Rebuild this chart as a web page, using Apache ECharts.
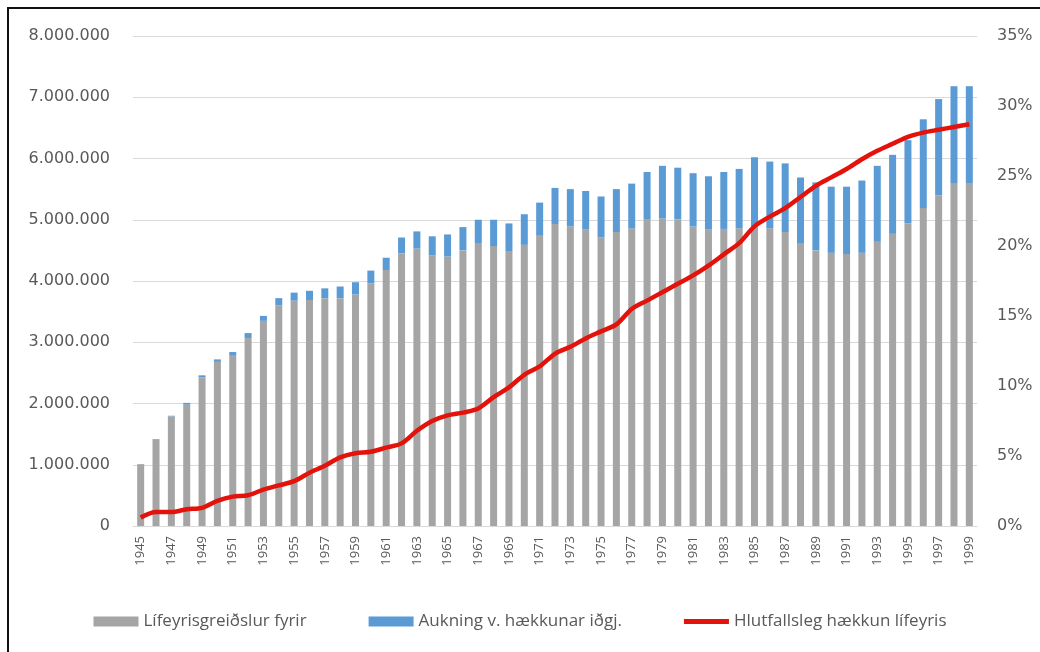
<!DOCTYPE html>
<html>
<head>
<meta charset="utf-8">
<title>Lífeyrisgreiðslur</title>
<script src="https://cdn.jsdelivr.net/npm/echarts@6/dist/echarts.min.js"></script>
<style>
  html, body { margin: 0; padding: 0; background: #fff; }
  #chart { width: 1040px; height: 652px; }
</style>
</head>
<body>
<div id="chart"></div>
<script>
  // ár
  const years = []
  for (let y = 1945; y <= 1999; y++) years.push(String(y))

  // Lífeyrisgreiðslur fyrir (milljónir)
  const baseValues = [
    1.01, 1.41, 1.79, 1.98, 2.43, 2.68, 2.79, 3.07, 3.35, 3.60,
    3.68, 3.69, 3.72, 3.72, 3.78, 3.96, 4.18, 4.45, 4.53, 4.42,
    4.40, 4.50, 4.62, 4.57, 4.49, 4.59, 4.75, 4.93, 4.89, 4.84,
    4.71, 4.80, 4.86, 5.00, 5.02, 5.01, 4.89, 4.84, 4.85, 4.86,
    4.89, 4.86, 4.80, 4.62, 4.50, 4.46, 4.44, 4.46, 4.64, 4.77,
    4.94, 5.19, 5.40, 5.60, 5.60
  ]

  // Aukning v. hækkunar iðgj. (milljónir)
  const increaseValues = [
    0.00, 0.01, 0.01, 0.03, 0.03, 0.04, 0.05, 0.08, 0.08, 0.12,
    0.13, 0.15, 0.16, 0.19, 0.20, 0.21, 0.20, 0.26, 0.28, 0.31,
    0.36, 0.38, 0.38, 0.43, 0.45, 0.50, 0.53, 0.59, 0.61, 0.63,
    0.67, 0.70, 0.73, 0.78, 0.86, 0.84, 0.87, 0.87, 0.93, 0.97,
    1.13, 1.09, 1.12, 1.07, 1.11, 1.08, 1.10, 1.18, 1.24, 1.29,
    1.36, 1.45, 1.57, 1.58, 1.58
  ]

  // Hlutfallsleg hækkun lífeyris (%)
  const pctValues = [
    0.6, 1.0, 1.0, 1.2, 1.3, 1.8, 2.1, 2.2, 2.6, 2.9,
    3.2, 3.8, 4.3, 4.9, 5.2, 5.3, 5.6, 5.9, 6.8, 7.5,
    7.9, 8.1, 8.4, 9.2, 9.9, 10.8, 11.4, 12.3, 12.8, 13.4,
    13.9, 14.4, 15.5, 16.1, 16.7, 17.3, 17.9, 18.6, 19.4, 20.2,
    21.4, 22.1, 22.7, 23.5, 24.3, 24.9, 25.5, 26.2, 26.8, 27.3,
    27.8, 28.1, 28.3, 28.5, 28.7
  ]

  const seriesNames = ['Lífeyrisgreiðslur fyrir', 'Aukning v. hækkunar iðgj.', 'Hlutfallsleg hækkun lífeyris']

  const toKr = (arr) => arr.map(v => Math.round(v * 1000000))
  const fmtThousands = (v) => String(v).replace(/\B(?=(\d{3})+(?!\d))/g, '.')

  let myChart = echarts.init(document.getElementById('chart'), null, { renderer: 'canvas' })
  myChart.setOption({
    animation: false,
    textStyle: { fontFamily: 'Open Sans' },
    grid: {
      left: 133,
      right: 63,
      top: 36,
      bottom: 126
    },
    legend: {
      top: 608,
      left: 'center',
      itemGap: 62,
      itemWidth: 45,
      itemHeight: 10,
      textStyle: { fontFamily: 'Open Sans', fontSize: 17, color: '#595959' },
      data: [
        { name: seriesNames[0], icon: 'rect' },
        { name: seriesNames[1], icon: 'rect' },
        { name: seriesNames[2], icon: 'path://M0,0 L45,0 L45,5 L0,5 Z' }
      ]
    },
    xAxis: {
      type: 'category',
      data: years,
      axisTick: { show: false },
      axisLine: { lineStyle: { color: '#D9D9D9' } },
      axisLabel: {
        rotate: 90,
        interval: 1,
        margin: 10,
        fontFamily: 'Open Sans',
        fontSize: 13,
        color: '#595959'
      }
    },
    yAxis: [
      {
        type: 'value',
        min: 0,
        max: 8000000,
        interval: 1000000,
        axisLine: { show: false },
        axisTick: { show: false },
        splitLine: { lineStyle: { color: '#D9D9D9' } },
        axisLabel: {
          margin: 23,
          fontFamily: 'DejaVu Sans',
          fontSize: 16,
          color: '#595959',
          formatter: fmtThousands
        }
      },
      {
        type: 'value',
        min: 0,
        max: 35,
        interval: 5,
        axisLine: { show: false },
        axisTick: { show: false },
        splitLine: { show: false },
        axisLabel: {
          margin: 20,
          fontFamily: 'DejaVu Sans',
          fontSize: 16,
          color: '#595959',
          formatter: '{value}%'
        }
      }
    ],
    series: [
      {
        name: seriesNames[0],
        type: 'bar',
        stack: 'total',
        barWidth: 7,
        itemStyle: { color: '#A5A5A5' },
        data: toKr(baseValues)
      },
      {
        name: seriesNames[1],
        type: 'bar',
        stack: 'total',
        barWidth: 7,
        itemStyle: { color: '#5B9BD5' },
        data: toKr(increaseValues)
      },
      {
        name: seriesNames[2],
        type: 'line',
        yAxisIndex: 1,
        smooth: 0.3,
        symbol: 'none',
        lineStyle: { color: '#E3120B', width: 4.5 },
        itemStyle: { color: '#E3120B' },
        data: pctValues
      }
    ],
    graphic: [
      {
        type: 'rect',
        shape: { x: 8, y: 8, width: 1100, height: 700 },
        style: { fill: 'none', stroke: '#111', lineWidth: 2 },
        silent: true
      }
    ]
  })
  window.addEventListener('resize', function () {
    myChart.resize()
  })
</script>
</body>
</html>
